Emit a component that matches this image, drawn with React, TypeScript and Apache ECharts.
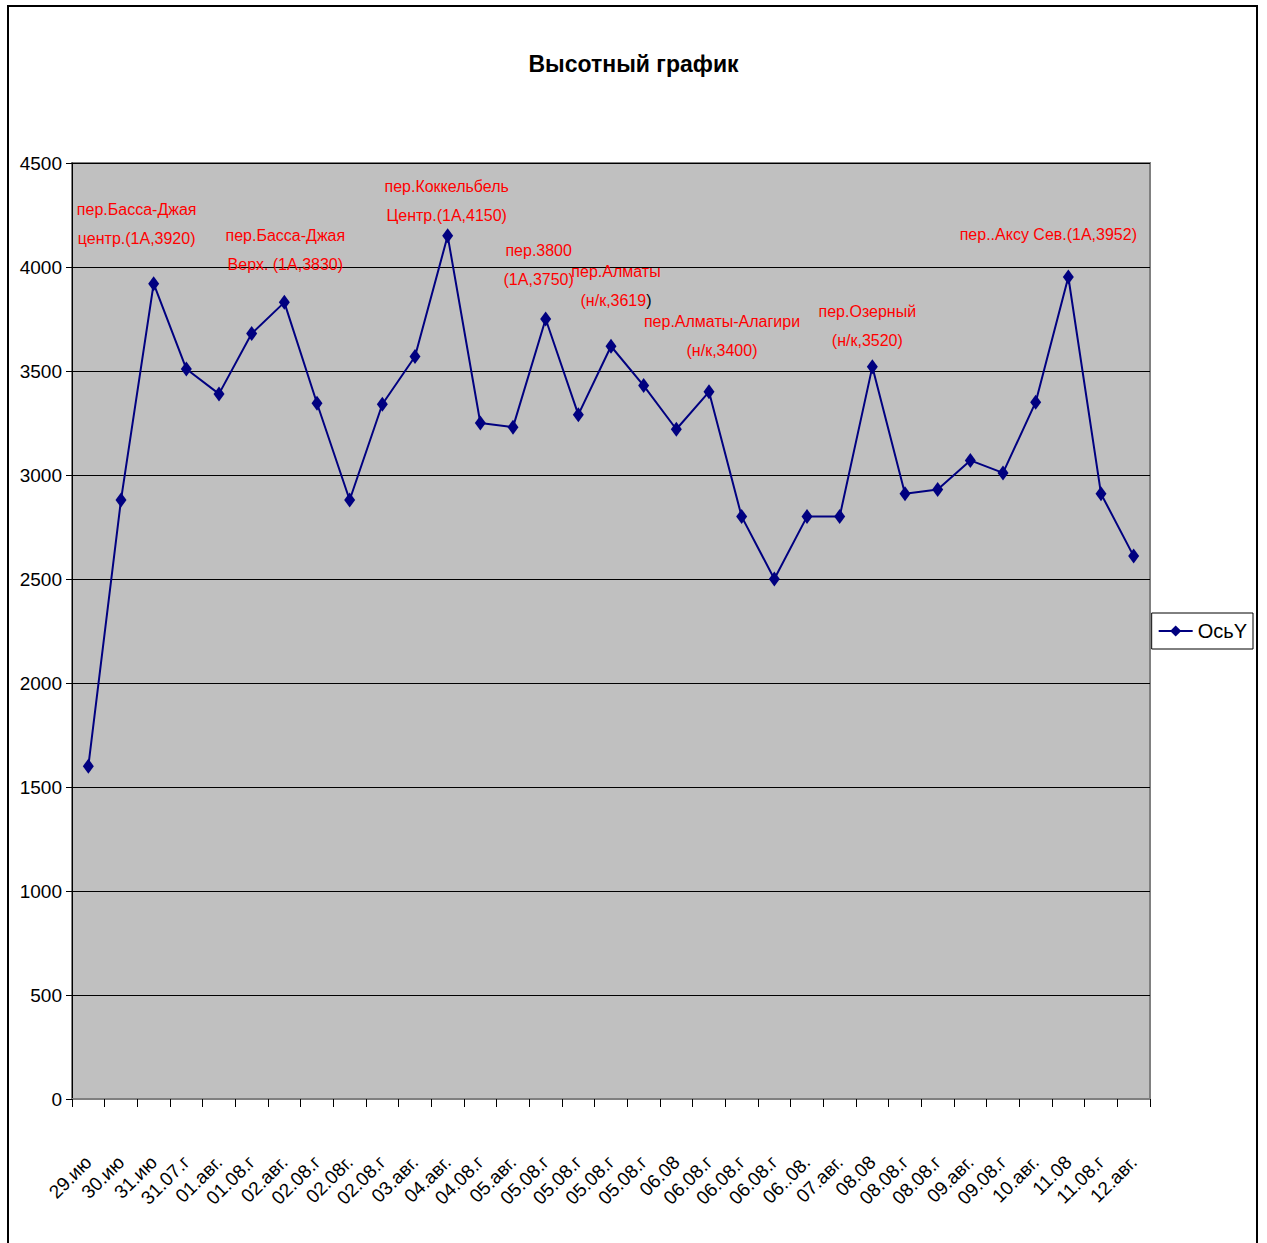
import React, { useEffect, useRef } from "react";
import * as echarts from "echarts";

const FONT = "'Liberation Sans', Arial, sans-serif";

const categories = [
  "29.июл.", "30.июл.", "31.июл.", "31.07.г", "01.авг.", "01.08.г", "02.авг.", "02.08.г", "02.08г.",
  "02.08.г", "03.авг.", "04.авг.", "04.08.г", "05.авг.", "05.08.г", "05.08.г", "05.08.г", "05.08.г",
  "06.08", "06.08.г", "06.08.г", "06.08.г", "06..08.г", "07.авг.", "08.08", "08.08.г", "08.08.г",
  "09.авг.", "09.08.г", "10.авг.", "11.08", "11.08.г", "12.авг.",
];

const heights = [
  1600, 2880, 3920, 3510, 3390, 3680, 3830, 3345, 2880, 3340, 3570, 4150, 3250, 3230, 3750, 3290,
  3619, 3430, 3220, 3400, 2800, 2500, 2800, 2800, 3520, 2910, 2930, 3070, 3010, 3350, 3952, 2910, 2610,
];

const seriesName = "ОсьY";
const title = "Высотный график";

const annotIndex = [2, 6, 11, 14, 16, 19, 24, 30];
const annotText = [
  "пер.Басса-Джая\nцентр.(1А,3920)",
  "пер.Басса-Джая\nВерх. (1А,3830)",
  "пер.Коккельбель\nЦентр.(1А,4150)",
  "пер.3800\n(1А,3750)",
  "{r|пер.Алматы}\n{r|(н/к,3619}{k|)}",
  "пер.Алматы-Алагири\n(н/к,3400)",
  "пер.Озерный\n(н/к,3520)",
  "пер..Аксу Сев.(1А,3952)",
];
const annotOffset = [
  [-17, -23],
  [1, -16],
  [-1, 2],
  [-7, -18],
  [5, -24],
  [13, -19],
  [-5, -4],
  [-20, -20],
];

export default function App() {
  const ref = useRef<HTMLDivElement>(null);
  useEffect(() => {
    document.body.style.margin = "0";
    const chart = echarts.init(ref.current!, null, { renderer: "svg" });
    const data = heights.map((v, i) => {
      const k = annotIndex.indexOf(i);
      if (k < 0) return v;
      return {
        value: v,
        label: {
          show: true,
          position: "top",
          distance: 0,
          offset: annotOffset[k],
          formatter: annotText[k],
          color: "#ff0000",
          fontFamily: FONT,
          fontSize: 16,
          lineHeight: 29,
          align: "center",
          rich: {
            r: { color: "#ff0000", fontFamily: FONT, fontSize: 16, lineHeight: 29 },
            k: { color: "#000000", fontFamily: FONT, fontSize: 16, lineHeight: 29 },
          },
        },
      };
    });
    chart.setOption({
      animation: false,
      backgroundColor: "#ffffff",
      title: {
        text: title,
        left: "center",
        top: 47,
        textStyle: { fontFamily: FONT, fontSize: 23, fontWeight: "bold", color: "#000" },
      },
      grid: {
        left: 72,
        right: 117,
        top: 163,
        bottom: 144,
        show: true,
        backgroundColor: "#c0c0c0",
        borderColor: "#808080",
        borderWidth: 2,
      },
      legend: {
        orient: "vertical",
        right: 14,
        top: 613,
        backgroundColor: "#ffffff",
        borderColor: "#000000",
        borderWidth: 1,
        borderRadius: 0,
        padding: [8, 6, 8, 6],
        itemWidth: 34,
        itemHeight: 14,
        itemGap: 4,
        textStyle: { fontFamily: FONT, fontSize: 20, color: "#000" },
        data: [seriesName],
      },
      xAxis: {
        type: "category",
        data: categories,
        boundaryGap: true,
        axisLine: { lineStyle: { color: "#808080", width: 2 } },
        axisTick: { show: true, interval: 0, length: 8, lineStyle: { color: "#000", width: 1 } },
        axisLabel: {
          interval: 0,
          rotate: 45,
          margin: 60,
          fontFamily: FONT,
          fontSize: 19,
          color: "#000",
          width: 64,
          overflow: "truncate",
          ellipsis: "",
        },
        splitLine: { show: false },
      },
      yAxis: {
        type: "value",
        min: 0,
        max: 4500,
        interval: 500,
        axisLine: { show: true, lineStyle: { color: "#000", width: 1 } },
        axisTick: { show: true, length: 6, lineStyle: { color: "#000" } },
        axisLabel: {
          fontFamily: FONT,
          fontSize: 19,
          color: "#000",
          margin: 10,
          formatter: (v: number) => String(v),
        },
        splitLine: { show: true, lineStyle: { color: "#000", width: 1 } },
      },
      series: [
        {
          name: seriesName,
          type: "line",
          data,
          symbol: "diamond",
          symbolSize: [11, 15],
          itemStyle: { color: "#000080" },
          lineStyle: { color: "#000080", width: 2 },
        },
      ],
      graphic: [
        {
          type: "rect",
          shape: { x: 8, y: 6, width: 1249, height: 1260 },
          style: { fill: "none", stroke: "#000", lineWidth: 2 },
          silent: true,
          z: 100,
        },
      ],
    });
    return () => chart.dispose();
  }, []);
  return <div ref={ref} style={{ width: 1267, height: 1243 }} />;
}
